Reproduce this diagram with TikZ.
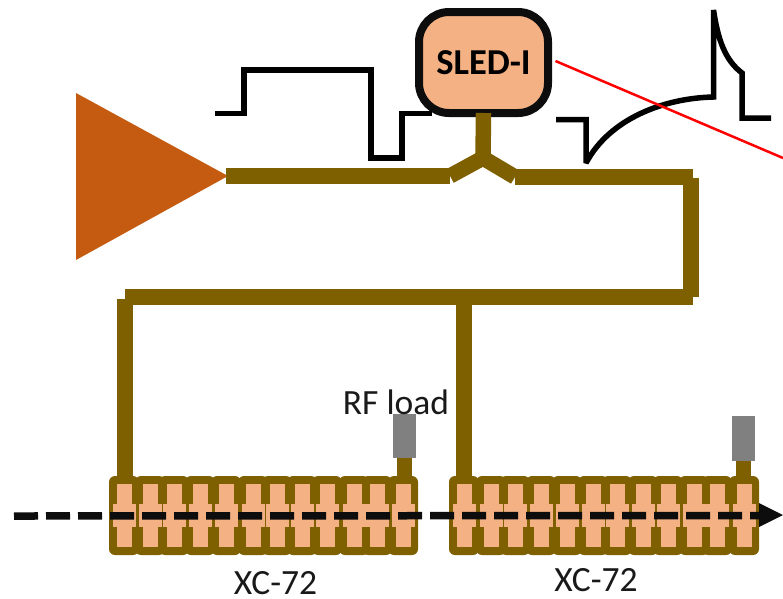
\documentclass[tikz,border=0pt]{standalone}
\usepackage{fontspec}
\setmainfont{Carlito}
\definecolor{brownline}{HTML}{7F6000}
\definecolor{cellfill}{HTML}{F4B183}
\definecolor{ampfill}{HTML}{C55A11}
\definecolor{inkblack}{HTML}{0D0D0D}
\tikzset{
  feed/.style={draw=brownline,line width=15.5pt,line cap=butt,line join=miter},
  wave/.style={draw=black,line width=5.5pt,line join=miter,miter limit=1.5},
  cellbody/.style={fill=brownline,draw=none,rounded corners=6pt,minimum width=30pt,minimum height=79pt,inner sep=0pt,outer sep=0pt},
  cellnarrow/.style={fill=cellfill,draw=none,minimum width=15pt,minimum height=63pt,inner sep=0pt},
  cellwide/.style={fill=cellfill,draw=none,minimum width=23pt,minimum height=23pt,inner sep=0pt},
  loadbox/.style={fill=black!50,draw=none,minimum width=23pt,minimum height=44pt,inner sep=0pt,outer sep=0pt},
  sled/.style={fill=cellfill,draw=inkblack,line width=8pt,rounded corners=30pt,minimum width=129pt,minimum height=101pt,inner sep=0pt,font=\fontsize{36.5}{38}\selectfont\bfseries},
  lbl/.style={font=\fontsize{35.5}{38}\selectfont,inner sep=0pt,text=black!90},
  beam/.style={draw=inkblack,line width=7.5pt,dash pattern=on 24pt off 8pt},
}
\begin{document}
\begin{tikzpicture}[x=1pt,y=-1pt]
\useasboundingbox (0,0) rectangle (783,598);
% amplifier
\fill[ampfill] (76,93) -- (228,176) -- (76,260) -- cycle;
\coordinate (ampout) at (226,176);
% SLED
\node[sled] (sled) at (483.5,62.5) {SLED-I};
% waveforms
\draw[wave] (215,113.5) -- (244,113.5) -- (244,70) -- (371,70) -- (371,158) -- (402,158) -- (402,113.5) -- (432,113.5);
\draw[wave] (556,119.5) -- (586,119.5) -- (586,163) .. controls (610,118) and (665,98) .. (713.5,97) -- (713.5,10) .. controls (718,40) and (725,60) .. (742,73) -- (742,118) -- (771,118);
% red line
\coordinate (redA) at (555.5,61);
\coordinate (redB) at (783,158);
\draw[red,line width=2.5pt] (redA) -- (redB);
% coordinates of the feed network
\coordinate (forkL) at (450,176);
\coordinate (forkM) at (483,158);
\coordinate (forkR) at (515,177);
\coordinate (cornerR) at (691,178);
\coordinate (cornerB) at (691,297);
\coordinate (cornerL) at (125,297);
\coordinate (midT) at (464,297);
% cells
\foreach \i/\x in {1/124,2/150,3/174,4/200,5/226,6/253,7/277,8/302,9/327,10/354,11/377,12/403}{
  \node[cellbody] (a\i) at (\x,515.5) {};
}
\foreach \i/\x in {1/464,2/491,3/515,4/541,5/567,6/593,7/617,8/643,9/668,10/694,11/717,12/744}{
  \node[cellbody] (b\i) at (\x,515.5) {};
}
% loads
\node[loadbox] (loadA) at (404.5,436) {};
\node[loadbox,minimum height=45pt] (loadB) at (743.5,438.5) {};
% feed lines
\draw[feed] (ampout) -- (forkL);
\draw[feed] (forkL) -- (forkM) -- (forkR);
\draw[feed] (forkR) -- (693,177);
\draw[feed,line width=16pt] (cornerR) -- (cornerB);
\draw[feed,line width=16pt] (693,297) -- (cornerL);
\draw[feed] (sled.south) ++(0,-4) -- (forkM);
\draw[feed,line width=16pt] (125,299) -- (125,478);
\draw[feed] (464,304) -- (464,478);
\draw[feed] (loadA.south) -- (loadA.south |- a12.north);
\draw[feed] (loadB.south) -- (loadB.south |- b12.north);
% cell interiors
\foreach \x in {124,150,174,200,226,253,277,302,327,354,377,403,464,491,515,541,567,593,617,643,668,694,717,744}{
  \node[cellnarrow] at (\x,515.5) {};
  \node[cellwide] at (\x,515) {};
}
% beam
\coordinate (beamA) at (14,516);
\coordinate (beamB) at (759,515.5);
\coordinate (tip) at (783,515);
\draw[beam] (beamA) -- (beamB);
\fill[inkblack] (759,503) -- (tip) -- (759,527) -- cycle;
% labels
\node[lbl] (rf) at (396,402) {RF load};
\node[lbl] (xa) at (275.5,583) {XC-72};
\node[lbl] (xb) at (596,580) {XC-72};
\end{tikzpicture}
\end{document}
